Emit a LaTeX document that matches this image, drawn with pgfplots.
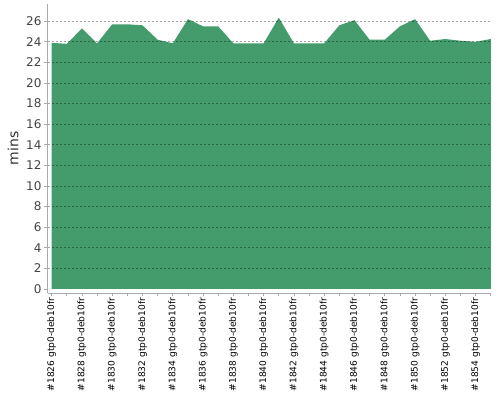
\documentclass[border=0pt]{standalone}
\usepackage{fontspec}
\setmainfont{DejaVu Sans}
\usepackage{pgfplots}
\pgfplotsset{compat=1.18}
\definecolor{areagreen}{RGB}{68,156,108}
\definecolor{axgray}{RGB}{170,170,170}
\definecolor{lbl}{RGB}{68,68,68}
\begin{document}
\begin{tikzpicture}
\path[use as bounding box] (-35.8pt,-80.25pt) rectangle (339.2pt,219.75pt);
\begin{axis}[
  at={(0,0)}, anchor=south west,
  scale only axis,
  width=332.5pt, height=216.75pt,
  xmin=-0.26, xmax=29.02,
  ymin=-0.39, ymax=27.67,
  axis lines*=left,
  axis line style={axgray, line width=0.75pt},
  axis on top,
  xtick={0,...,29},
  xticklabels={\#1826 gtp0-deb10fr,,\#1828 gtp0-deb10fr,,\#1830 gtp0-deb10fr,,\#1832 gtp0-deb10fr,,\#1834 gtp0-deb10fr,,\#1836 gtp0-deb10fr,,\#1838 gtp0-deb10fr,,\#1840 gtp0-deb10fr,,\#1842 gtp0-deb10fr,,\#1844 gtp0-deb10fr,,\#1846 gtp0-deb10fr,,\#1848 gtp0-deb10fr,,\#1850 gtp0-deb10fr,,\#1852 gtp0-deb10fr,,\#1854 gtp0-deb10fr,},
  ytick={2,4,...,26},
  extra y ticks={0},
  extra y tick style={ymajorgrids=false},
  tick align=outside,
  major tick length=2.5pt,
  tick style={axgray, line width=0.6pt},
  xticklabel style={rotate=90, anchor=east, font=\fontsize{6.8}{8}\selectfont, text=black, inner sep=1pt},
  yticklabel style={font=\fontsize{9}{10}\selectfont, text=lbl, inner sep=2pt},
  /pgf/number format/assume math mode=true,
  ymajorgrids,
  major grid style={black, draw opacity=0.35, line width=0.5pt, dash pattern=on 1.5pt off 1.5pt},
  ylabel={mins},
  ylabel style={at={(axis description cs:-0.078,0.5)}, anchor=center, font=\fontsize{10.5}{12}\selectfont, text=black!80},
  clip=false,
]
\addplot[fill=areagreen, draw=none] coordinates {
(0,23.9) (1,23.8) (2,25.3) (3,23.85) (4,25.7) (5,25.7) (6,25.6) (7,24.2) (8,23.85) (9,26.2)
(10,25.5) (11,25.5) (12,23.85) (13,23.85) (14,23.85) (15,26.35) (16,23.85) (17,23.85) (18,23.85) (19,25.6)
(20,26.1) (21,24.2) (22,24.2) (23,25.5) (24,26.2) (25,24.1) (26,24.27) (27,24.1) (28,24.0) (29,24.27)
} \closedcycle;
\end{axis}
\end{tikzpicture}
\end{document}
